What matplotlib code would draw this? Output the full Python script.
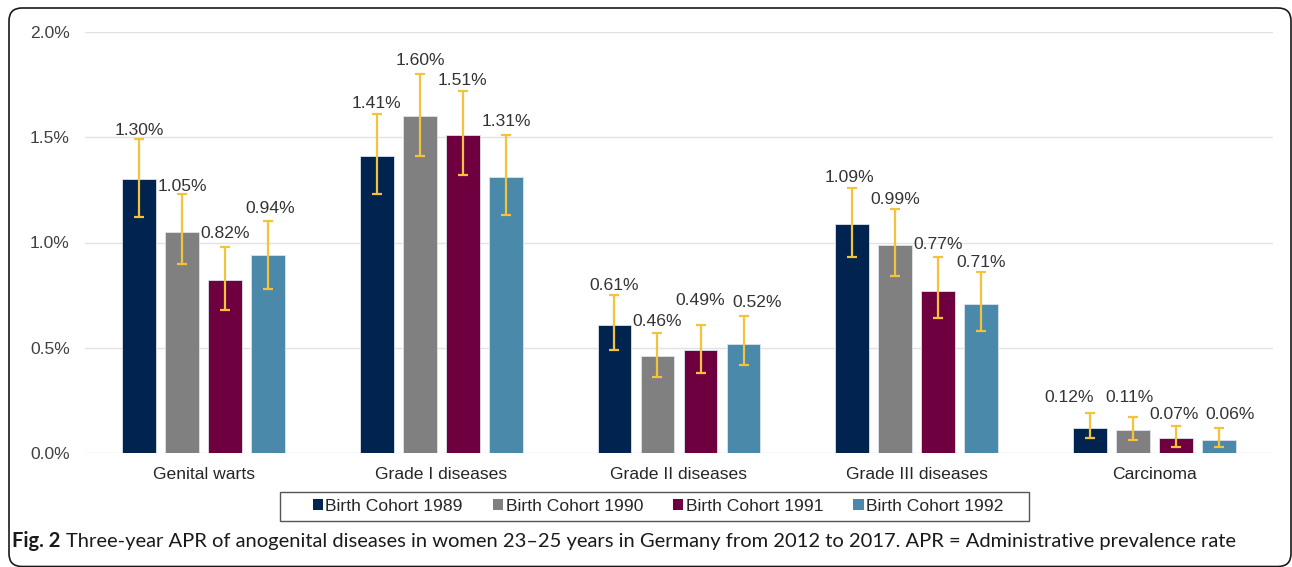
import matplotlib
matplotlib.use("Agg")
import matplotlib.pyplot as plt
import numpy as np
from matplotlib.patches import Patch, FancyBboxPatch, Rectangle
from matplotlib.transforms import IdentityTransform

categories = ["Genital warts", "Grade I diseases", "Grade II diseases", "Grade III diseases", "Carcinoma"]
series_names = ["Birth Cohort 1989", "Birth Cohort 1990", "Birth Cohort 1991", "Birth Cohort 1992"]

apr_1989 = [1.30, 1.41, 0.61, 1.09, 0.12]
apr_1990 = [1.05, 1.60, 0.46, 0.99, 0.11]
apr_1991 = [0.82, 1.51, 0.49, 0.77, 0.07]
apr_1992 = [0.94, 1.31, 0.52, 0.71, 0.06]

ci_low_1989 = [1.12, 1.23, 0.49, 0.93, 0.07]
ci_high_1989 = [1.49, 1.61, 0.75, 1.26, 0.19]
ci_low_1990 = [0.90, 1.41, 0.36, 0.84, 0.06]
ci_high_1990 = [1.23, 1.80, 0.57, 1.16, 0.17]
ci_low_1991 = [0.68, 1.32, 0.38, 0.64, 0.03]
ci_high_1991 = [0.98, 1.72, 0.61, 0.93, 0.13]
ci_low_1992 = [0.78, 1.13, 0.42, 0.58, 0.03]
ci_high_1992 = [1.10, 1.51, 0.65, 0.86, 0.12]

y_ticks = [0.0, 0.5, 1.0, 1.5, 2.0]

values = [apr_1989, apr_1990, apr_1991, apr_1992]
lows = [ci_low_1989, ci_low_1990, ci_low_1991, ci_low_1992]
highs = [ci_high_1989, ci_high_1990, ci_high_1991, ci_high_1992]
colors = ["#00234F", "#808080", "#6E0040", "#4A89AA"]
err_color = "#F5C33B"

# manual nudges of the value labels (pixels: dx right, dy up), as in the reference layout
label_dx = [[0, 0, 0, -3, -21],
            [0, 0, 0, 0, -3],
            [0, 0, 0, 0, -2],
            [2, 0, 14, 0, 11]]
label_dy = [[-1, 0, -1, 0, 5],
            [-3, 3, 1, -1, 9],
            [3, 0, 14, 2, 1],
            [3, 3, 3, -1, 3]]

W, H = 1292, 567
fig = plt.figure(figsize=(W / 100, H / 100), dpi=100)
plt.rcParams["font.family"] = ["Liberation Sans", "DejaVu Sans"]
FS = 12.6
PX = 0.72  # points per pixel at dpi 100

ax = fig.add_axes([85 / W, 1 - 453 / H, (1273 - 85) / W, (453 - 32) / H])

x = np.arange(len(categories))
bw = 0.143
step = 0.181
offsets = (np.arange(4) - 1.5) * step

for i in range(4):
    xs = x + offsets[i]
    v = np.array(values[i])
    lo = np.array(lows[i])
    hi = np.array(highs[i])
    ax.bar(xs, v, width=bw, color=colors[i], edgecolor="#DCE3EA", linewidth=0.6, zorder=2,
           label=series_names[i])
    ax.errorbar(xs, v, yerr=[v - lo, hi - v], fmt="none", ecolor=err_color, elinewidth=1.6,
                capsize=3.5, capthick=1.6, zorder=3)
    for j, (xi, vi, hii) in enumerate(zip(xs, v, hi)):
        ax.annotate(f"{vi:.2f}%", (xi, hii),
                    xytext=(label_dx[i][j] * PX, 2 + label_dy[i][j] * PX), textcoords="offset points",
                    ha="center", va="bottom", fontsize=FS, color="#333333", zorder=4)

ax.set_xlim(-0.5, len(categories) - 0.5)
ax.set_ylim(0, 2.0)
ax.set_yticks(y_ticks)
ax.set_yticklabels([f"{t:.1f}%" for t in y_ticks])
ax.set_xticks(x)
ax.set_xticklabels(categories)
ax.tick_params(axis="both", length=0, labelsize=FS, colors="#404040")
ax.tick_params(axis="y", pad=11)
ax.tick_params(axis="x", pad=10)
for lbl in ax.get_xticklabels():
    lbl.set_color("#262626")
for s in ax.spines.values():
    s.set_visible(False)
ax.yaxis.grid(True, color="#E2E2E2", linewidth=1.0, zorder=0)
ax.set_axisbelow(True)

handles = [Patch(facecolor=c, edgecolor="none") for c in colors]
leg = fig.legend(handles, series_names, loc="center", bbox_to_anchor=(658 / W, 1 - 506.5 / H),
                 ncol=4, frameon=False, fontsize=FS, handlelength=0.6,
                 handleheight=0.6, handletextpad=0.12, columnspacing=1.72, borderpad=0.2,
                 borderaxespad=0)
for t in leg.get_texts():
    t.set_color("#262626")
# legend box
fig.patches.append(Rectangle((280, H - 521), 1029 - 280, 521 - 492, transform=IdentityTransform(),
                             fill=False, edgecolor="#555555", linewidth=1.0, figure=fig))

# outer rounded frame
frame = FancyBboxPatch((9, 0.5), 1291 - 9, 559 - 0.5, boxstyle="round,pad=0,rounding_size=13",
                       transform=IdentityTransform(), fill=False, edgecolor="#1a1a1a",
                       linewidth=1.2, figure=fig)
fig.patches.append(frame)

# caption
cap_family = ["Lato", "Open Sans", "DejaVu Sans"]
cap_y = 1 - 541 / H
fig.canvas.draw()
renderer = fig.canvas.get_renderer()
cap_fs = 13
t1 = fig.text(12 / W, cap_y, "Fig. 2", fontsize=cap_fs, fontweight="bold", family=cap_family,
              va="center", ha="left", color="#1a1a1a")
bb = t1.get_window_extent(renderer)
t2 = fig.text((bb.x1 + 5) / W, cap_y,
              "Three-year APR of anogenital diseases in women 23–25 years in Germany from 2012 to 2017. APR = Administrative prevalence rate",
              fontsize=cap_fs, family=cap_family, va="center", ha="left", color="#1a1a1a")
bb2 = t2.get_window_extent(renderer)
scale = (1232 - 12) / (bb2.x1 - bb.x0)
cap_fs2 = cap_fs * scale
t1.set_fontsize(cap_fs2)
bb = t1.get_window_extent(renderer)
t2.set_fontsize(cap_fs2)
t2.set_x((bb.x1 + 5 * scale) / W)

fig.savefig("out.png", dpi=100)
